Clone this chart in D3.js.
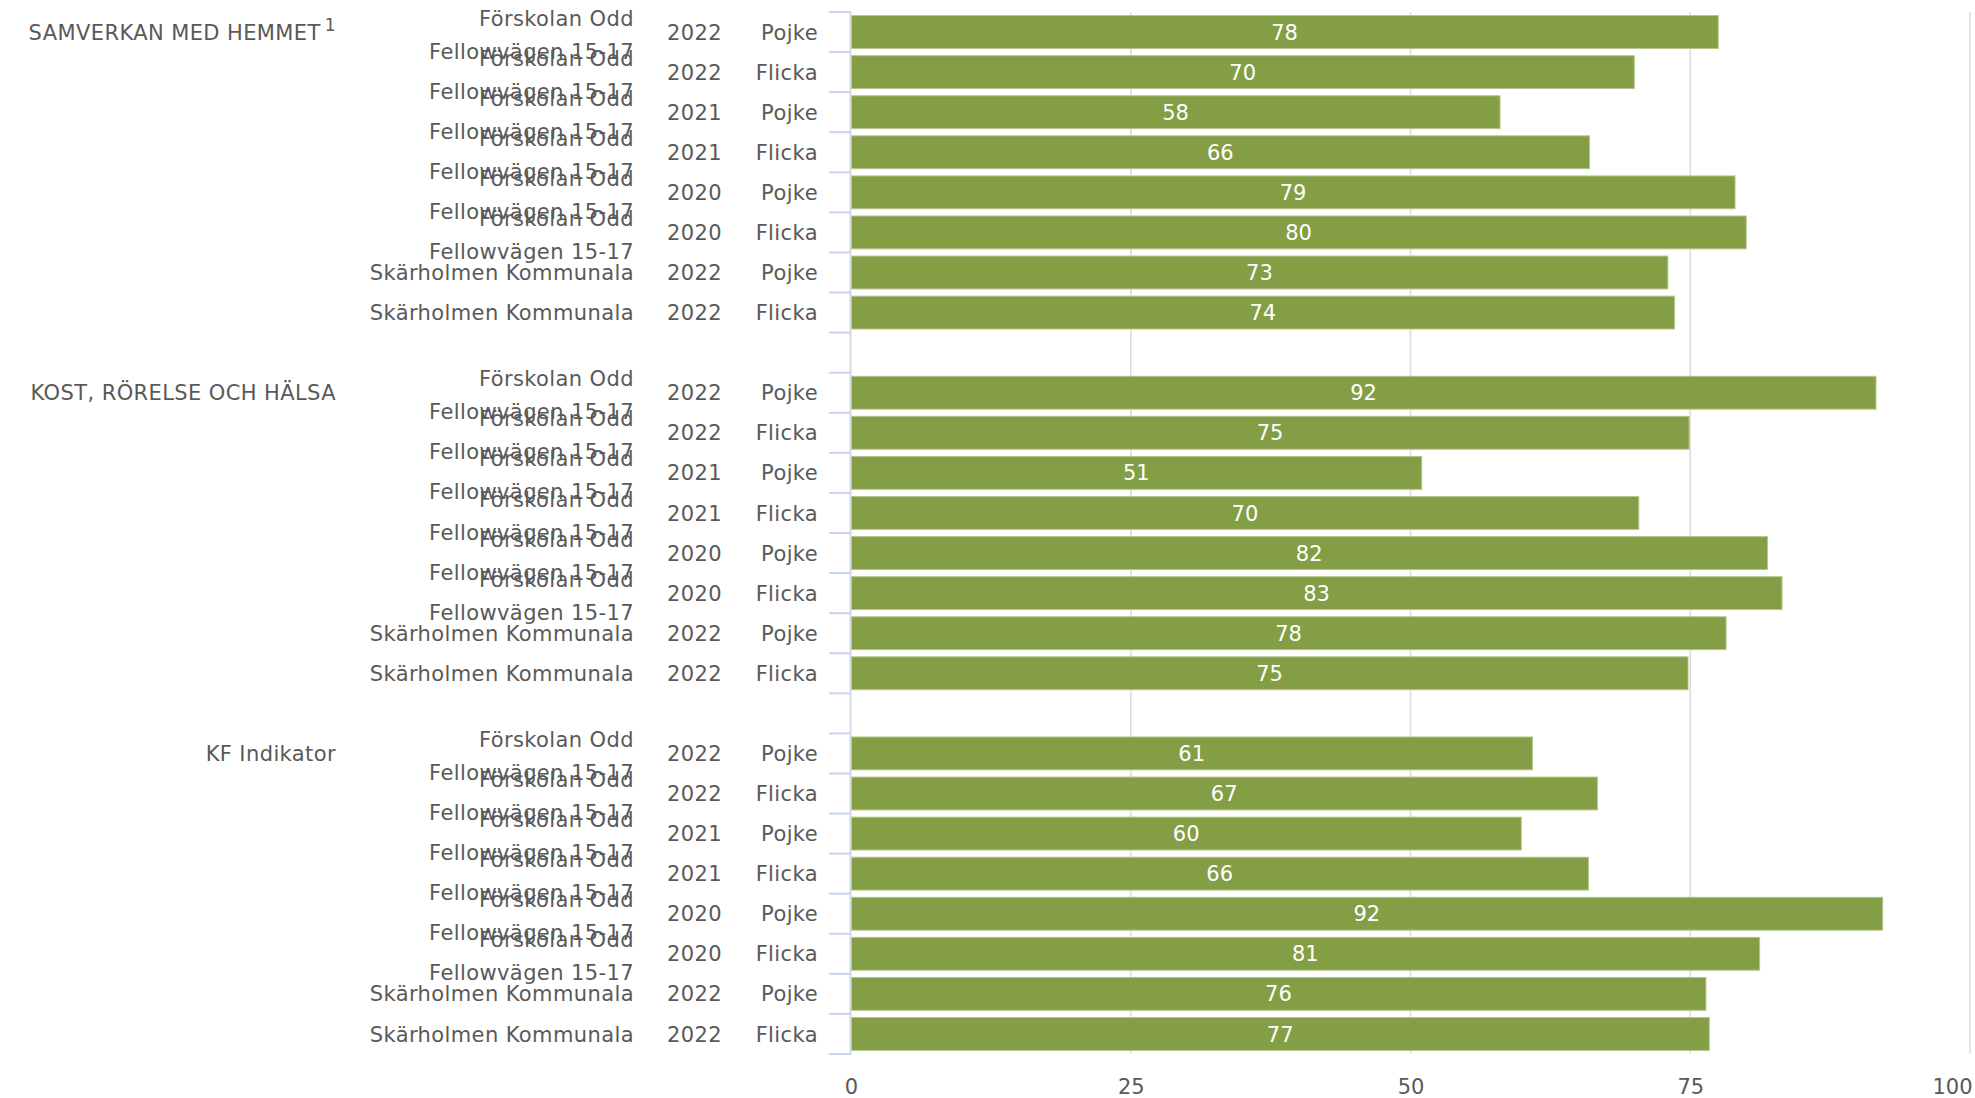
<!DOCTYPE html>
<html>
<head>
<meta charset="utf-8">
<script src="https://d3js.org/d3.v7.min.js"></script>
<style>
  body { margin: 0; background: #fff; }
  text { font-family: "DejaVu Sans", sans-serif; }
</style>
</head>
<body>
<div id="chart-area"></div>
<script>
var width = 1975, height = 1098;

// group titles (multi-level category axis, outer level)
var groups = ["SAMVERKAN MED HEMMET", "KOST, RÖRELSE OCH HÄLSA", "KF Indikator"];
var groupNotes = ["1", "", ""];

// inner levels, same for every group
var units = [
	"Förskolan Odd Fellowvägen 15-17", "Förskolan Odd Fellowvägen 15-17",
	"Förskolan Odd Fellowvägen 15-17", "Förskolan Odd Fellowvägen 15-17",
	"Förskolan Odd Fellowvägen 15-17", "Förskolan Odd Fellowvägen 15-17",
	"Skärholmen Kommunala", "Skärholmen Kommunala"
];
var years = ["2022", "2022", "2021", "2021", "2020", "2020", "2022", "2022"];
var genders = ["Pojke", "Flicka", "Pojke", "Flicka", "Pojke", "Flicka", "Pojke", "Flicka"];

// values per group
var samverkan = [77.5, 70, 58, 66, 79, 80, 73, 73.6];
var kost = [91.6, 74.9, 51, 70.4, 81.9, 83.2, 78.2, 74.8];
var kfIndikator = [60.9, 66.7, 59.9, 65.9, 92.2, 81.2, 76.4, 76.7];

var xTicks = [0, 25, 50, 75, 100];

var textColor = "#595959";
var fontSize = 21;

// build rows, with an empty row between groups
var seriesByGroup = [samverkan, kost, kfIndikator];
var rows = [];
groups.forEach(function(gname, gi){
	if (gi > 0) rows.push({ key: "gap" + gi, gap: true });
	units.forEach(function(u, i){
		rows.push({
			key: gi + "-" + i,
			group: gi,
			first: i === 0,
			unit: u,
			year: years[i],
			gender: genders[i],
			value: seriesByGroup[gi][i]
		});
	});
});

var svg = d3.select("#chart-area")
	.append("svg")
		.attr("width", width)
		.attr("height", height);

var x = d3.scaleLinear()
	.domain([0, 100])
	.range([851, 1970]);

var y = d3.scaleBand()
	.domain(rows.map(function(d){ return d.key; }))
	.range([12, 1054])
	.paddingInner(0.18)
	.paddingOuter(0.09);

var step = y.step();
var top0 = 12;

// gridlines
svg.append("g")
	.selectAll("line")
	.data(xTicks.filter(function(t){ return t > 0; }))
	.enter()
	.append("line")
		.attr("x1", function(d){ return x(d); })
		.attr("x2", function(d){ return x(d); })
		.attr("y1", top0)
		.attr("y2", 1054)
		.attr("stroke", "#dcdcdc")
		.attr("stroke-width", 1.5);

// bottom axis labels
var xAxisCall = d3.axisBottom(x)
	.tickValues(xTicks)
	.tickSize(0)
	.tickPadding(0);

var xAxis = svg.append("g")
	.attr("transform", "translate(0, 1079)")
	.call(xAxisCall);
xAxis.select(".domain").remove();
xAxis.selectAll("text")
	.attr("fill", textColor)
	.attr("font-size", fontSize)
	.attr("font-family", "DejaVu Sans, sans-serif")
	.attr("dy", "0.71em");
xAxis.selectAll(".tick:last-of-type text")
	.attr("text-anchor", "end")
	.attr("x", 2);

// bars
var dataRows = rows.filter(function(d){ return !d.gap; });

svg.append("g")
	.selectAll("rect")
	.data(dataRows)
	.enter()
	.append("rect")
		.attr("x", x(0))
		.attr("y", function(d){ return y(d.key); })
		.attr("width", function(d){ return x(d.value) - x(0); })
		.attr("height", y.bandwidth())
		.attr("fill", "#849e45")
		.attr("stroke", "#b3c78a")
		.attr("stroke-width", 1);

// value labels
svg.append("g")
	.selectAll("text")
	.data(dataRows)
	.enter()
	.append("text")
		.attr("x", function(d){ return x(d.value / 2); })
		.attr("y", function(d){ return y(d.key) + y.bandwidth() / 2; })
		.attr("dy", "0.36em")
		.attr("text-anchor", "middle")
		.attr("fill", "#fff")
		.attr("font-size", fontSize)
		.text(function(d){ return Math.round(d.value); });

// category axis line and ticks
var axisG = svg.append("g");
axisG.append("line")
	.attr("x1", x(0) - 0.5).attr("x2", x(0) - 0.5)
	.attr("y1", top0).attr("y2", 1054)
	.attr("stroke", "#d3d9e3")
	.attr("stroke-width", 2);

axisG.selectAll(".tk")
	.data(d3.range(rows.length + 1))
	.enter()
	.append("line")
		.attr("class", "tk")
		.attr("x1", x(0) - 22).attr("x2", x(0))
		.attr("y1", function(i){ return top0 + i * step; })
		.attr("y2", function(i){ return top0 + i * step; })
		.attr("stroke", "#c8d5ec")
		.attr("stroke-width", 2);

// wrap long unit names into two lines
function wrap(str, maxChars) {
	var words = str.split(" "), lines = [], cur = "";
	words.forEach(function(w){
		var next = cur ? cur + " " + w : w;
		if (next.length > maxChars && cur) { lines.push(cur); cur = w; }
		else cur = next;
	});
	lines.push(cur);
	return lines;
}

var labels = svg.append("g")
	.attr("fill", textColor)
	.attr("font-size", fontSize)
	.attr("letter-spacing", 0.4);

dataRows.forEach(function(d){
	var cy = y(d.key) + y.bandwidth() / 2;

	labels.append("text")
		.attr("x", 818).attr("y", cy).attr("dy", "0.36em")
		.attr("text-anchor", "end")
		.text(d.gender);

	labels.append("text")
		.attr("x", 722).attr("y", cy).attr("dy", "0.36em")
		.attr("text-anchor", "end")
		.text(d.year);

	var lines = wrap(d.unit, 20);
	lines.forEach(function(l, li){
		var off = lines.length === 1 ? 0 : (li === 0 ? -14 : 19);
		labels.append("text")
			.attr("x", 634).attr("y", cy + off).attr("dy", "0.36em")
			.attr("text-anchor", "end")
			.text(l);
	});

	if (d.first) {
		var gt = labels.append("text")
			.attr("x", 336).attr("y", cy).attr("dy", "0.36em")
			.attr("text-anchor", "end");
		gt.append("tspan").text(groups[d.group]);
		if (groupNotes[d.group]) {
			gt.append("tspan")
				.attr("dx", 4)
				.attr("dy", "-0.5em")
				.attr("font-size", 17)
				.text(groupNotes[d.group]);
		}
	}
});
</script>
</body>
</html>
